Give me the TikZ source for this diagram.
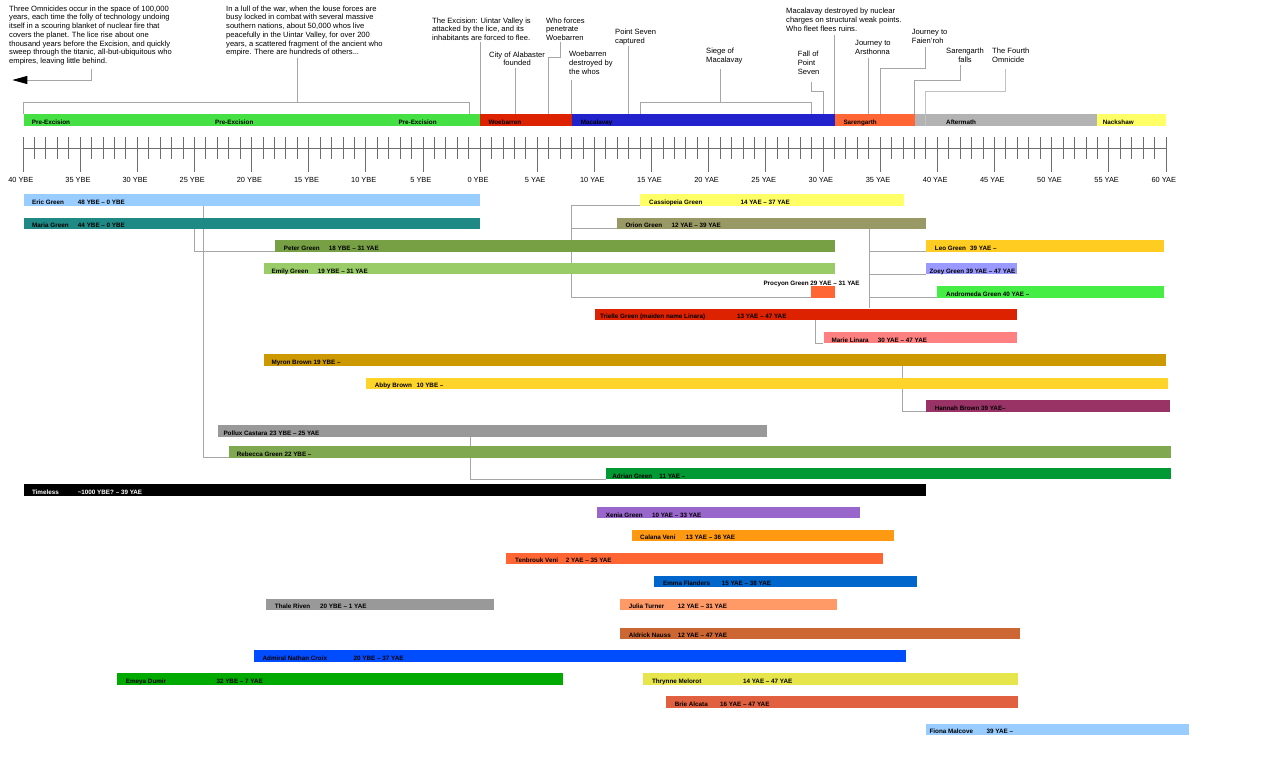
\documentclass[tikz,border=0pt]{standalone}
\usepackage{fontspec}
\setmainfont{Liberation Sans}
\usepackage{tikz}
\usetikzlibrary{calc}
\usetikzlibrary{arrows.meta}
\usetikzlibrary{positioning}

% era colours
\definecolor{cPre}{HTML}{44E044}
\definecolor{cWoe}{HTML}{DD2200}
\definecolor{cMac}{HTML}{2222CC}
\definecolor{cSar}{HTML}{FF6633}
\definecolor{cAft}{HTML}{B3B3B3}
\definecolor{cNack}{HTML}{FFFF66}
% people
\definecolor{cEric}{HTML}{99CCFF}
\definecolor{cMaria}{HTML}{1F8A85}
\definecolor{cPeter}{HTML}{77A044}
\definecolor{cEmily}{HTML}{99CC66}
\definecolor{cCass}{HTML}{FFFF66}
\definecolor{cOrion}{HTML}{999966}
\definecolor{cLeo}{HTML}{FFCC22}
\definecolor{cZoey}{HTML}{9999FF}
\definecolor{cProc}{HTML}{FF6633}
\definecolor{cAndro}{HTML}{44EE44}
\definecolor{cTri}{HTML}{DD2200}
\definecolor{cMarie}{HTML}{FF8080}
\definecolor{cMyron}{HTML}{CC9900}
\definecolor{cAbby}{HTML}{FFD42A}
\definecolor{cHannah}{HTML}{993366}
\definecolor{cPollux}{HTML}{999999}
\definecolor{cReb}{HTML}{80A850}
\definecolor{cAdrian}{HTML}{009933}
\definecolor{cXenia}{HTML}{9966CC}
\definecolor{cCalana}{HTML}{FF9911}
\definecolor{cTen}{HTML}{FF6633}
\definecolor{cEmma}{HTML}{0066CC}
\definecolor{cThale}{HTML}{999999}
\definecolor{cJulia}{HTML}{FF9966}
\definecolor{cAld}{HTML}{CC6633}
\definecolor{cAdm}{HTML}{004CFF}
\definecolor{cEmeya}{HTML}{00AA00}
\definecolor{cThry}{HTML}{E6E64C}
\definecolor{cBrie}{HTML}{E06040}
\definecolor{cFiona}{HTML}{99CCFF}
% lines
\definecolor{cLink}{HTML}{A6A6A6}
\definecolor{cTick}{HTML}{6E6E6E}

\newcommand{\barbox}[2]{\makebox[#1pt][l]{#2}}
\newcommand{\tabname}[3]{\hspace*{#1pt}\makebox[#2pt][l]{#3}}

\tikzset{
  bar/.style={anchor=north west, inner sep=0pt, minimum height=11.5pt,
              text height=9.3pt, text depth=0pt,
              font=\fontsize{6.3}{7}\selectfont\bfseries},
  note/.style={anchor=north west, inner sep=0pt, align=left,
               font=\fontsize{7.6}{8.7}\selectfont},
  link/.style={draw=cLink, line width=0.9pt},
  tick/.style={draw=cTick, line width=0.6pt},
  yearlabel/.style={inner sep=0pt, font=\fontsize{7.4}{8}\selectfont}
}

\begin{document}
\begin{tikzpicture}[x=1pt, y=-1pt]
    \fill[white] (0,0) rectangle (1280,777);
    \useasboundingbox (0,0) rectangle (1280,777);

    % Notes above the eras
    \node[note] (omninote)     at (9,5.5)      {Three Omnicides occur in the space of 100,000\\years, each time the folly of technology undoing\\itself in a scouring blanket of nuclear fire that\\covers the planet. The lice rise about one\\thousand years before the Excision, and quickly\\sweep through the titanic, all-but-ubiquitous who\\empires, leaving little behind.};
    \node[note] (lullnote)     at (226,5.5)    {In a lull of the war, when the louse forces are\\busy locked in combat with several massive\\southern nations, about 50,000 whos live\\peacefully in the Uintar Valley, for over 200\\years, a scattered fragment of the ancient who\\empire. There are hundreds of others...};
    \node[note] (excisionnote) at (432,17.5)   {The Excision: Uintar Valley is\\attacked by the lice, and its\\inhabitants are forced to flee.};
    \node[note, anchor=north, align=center] (alabnote) at (517,51.5) {City of Alabaster\\founded};
    \node[note] (whonote)      at (546,17.5)   {Who forces\\penetrate\\Woebarren};
    \node[note] (woenote)      at (569,51.2)   {Woebarren\\destroyed by\\the whos};
    \node[note] (psnote)       at (615,29.2)   {Point Seven\\captured};
    \node[note] (siegenote)    at (706,48.2)   {Siege of\\Macalavay};
    \node[note] (fallnote)     at (797.7,51.2) {Fall of\\Point\\Seven};
    \node[note] (nukenote)     at (786,7.9)    {Macalavay destroyed by nuclear\\charges on structural weak points.\\Who fleet flees ruins.};
    \node[note] (arsnote)      at (855,40.5)   {Journey to\\Arsthonna};
    \node[note] (fainote)      at (911.7,29.2) {Journey to\\Faien'roh};
    \node[note, anchor=north, align=center] (sfnote) at (965,48.2) {Sarengarth\\falls};
    \node[note] (fourthnote)   at (992,48.2)   {The Fourth\\Omnicide};

    % Feet of the note lines and their hits on the era bar
    \coordinate (omnifoot)    at (91.3,69);
    \coordinate (omnitip)     at (12.3,80);
    \coordinate (lullfoot)    at (297,58);
    \coordinate (lullend)     at (469,114);
    \coordinate (excfoot)     at (480,42);
    \coordinate (alabfoot)    at (515,68);
    \coordinate (whofoot)     at (560,41.7);
    \coordinate (whohit)      at (548.3,114);
    \coordinate (woefoot)     at (571.4,80);
    \coordinate (psfoot)      at (628.7,46);
    \coordinate (siegestart)  at (640,114);
    \coordinate (siegeend)    at (811.7,114);
    \coordinate (siegefoot)   at (720.7,69);
    \coordinate (fallfoot)    at (811.7,81.7);
    \coordinate (fallhit)     at (823.3,114);
    \coordinate (nukefoot)    at (834.3,35);
    \coordinate (arsfoot)     at (868.3,58);
    \coordinate (faifoot)     at (925.7,47);
    \coordinate (faihit)      at (880,114);
    \coordinate (sffoot)      at (960.3,65);
    \coordinate (sfhit)       at (914.3,114);
    \coordinate (fourthfoot)  at (1005.7,69);
    \coordinate (fourthhit)   at (925.7,114);

    \draw[link, -{Triangle[length=15pt,width=8pt,black]}] (omnifoot) |- (omnitip);
    \draw[link] (lullfoot) -- ++(0,44.7);
    \draw[link] (23.3,114) -- ++(0,-11.3) -| (lullend);
    \draw[link] (excfoot) -- (excfoot |- lullend);
    \draw[link] (alabfoot) -- (alabfoot |- lullend);
    \draw[link] (whofoot) -- ++(0,15.6) -| (whohit);
    \draw[link] (woefoot) -- (woefoot |- lullend);
    \draw[link] (psfoot) -- (psfoot |- lullend);
    \draw[link] (siegefoot) -- ++(0,33.7);
    \draw[link] (siegestart) -- ++(0,-11.3) -| (siegeend);
    \draw[link] (fallfoot) -- ++(0,10) -| (fallhit);
    \draw[link] (nukefoot) -- (nukefoot |- lullend);
    \draw[link] (arsfoot) -- (arsfoot |- lullend);
    \draw[link] (faifoot) -- ++(0,21.3) -| (faihit);
    \draw[link] (sffoot) -- ++(0,15) -| (sfhit);

    % Eras
    \node[bar, fill=cPre]  (pre)        at (23.3,114)  {\barbox{456.7}{\hspace*{8.4pt}\makebox[183.3pt][l]{Pre-Excision}\makebox[183.3pt][l]{Pre-Excision}Pre-Excision}};
    \node[bar, fill=cWoe]  (woebarren)  at (480,114)   {\barbox{91.4}{\hspace*{8.3pt}Woebarren}};
    \node[bar, fill=cMac]  (macalavay)  at (571.4,114) {\barbox{262.9}{\hspace*{9.3pt}Macalavay}};
    \node[bar, fill=cSar]  (sarengarth) at (834.3,114) {\barbox{80}{\hspace*{9pt}Sarengarth}};
    \node[bar, fill=cAft]  (aftermath)  at (914.3,114) {\barbox{182.7}{\hspace*{31.7pt}Aftermath}};
    \node[bar, fill=cNack] (nackshaw)   at (1097,114)  {\barbox{69}{\hspace*{5.7pt}Nackshaw}};
    \draw[link, draw=cLink!70] (fourthfoot) -- ++(0,22) -| (fourthhit) -- (fourthhit |- aftermath.south);

    % Year axis
    \draw[tick] (23.3,148.3) -- (1165.8,148.3);
    \foreach \i in {-40,...,60}
        \draw[tick] ({480+11.43*\i},137.3) -- ++(0,22);
    \foreach \i in {-40,-35,...,60}
        \draw[tick] ({480+11.43*\i},137.3) -- ++(0,34.4);
    \foreach \i in {40,35,...,0}
        \node[yearlabel] (ybe\i) at ({478-11.43*\i},180) {\i\ YBE};
    \foreach \i in {5,10,...,60}
        \node[yearlabel] (yae\i) at ({478+11.43*\i},180) {\i\ YAE};

    % Family lines (behind the bars)
    \coordinate (pekids) at (571.4,297.3);
    \coordinate (otline) at (869,228.7);
    \draw[link] (23.3,205.7) ++(180,0) |- (228.6,457.3);
    \draw[link] (23.3,228.7) ++(171,0) |- (275,251.5);
    \draw[link] (640,205.7) -| (pekids) -- (811,297.3);
    \draw[link] (617.1,228.7) -- (617.1,228.7 -| pekids);
    \draw[link] (otline) -- (otline |- 0,308.3);
    \draw[link] (otline |- 0,251.5) -- (926,251.5);
    \draw[link] (otline |- 0,274.2) -- (926,274.2);
    \draw[link] (otline |- 0,297.5) -- (937.1,297.5);
    \draw[link] (594.7,319.8) ++(220.4,0) |- (823.3,343.2);
    \draw[link] (263.3,365.5) ++(639.6,0) |- (926,411.5);
    \draw[link] (217.6,436.5) ++(253,0) |- (606.1,479.2);

    % Lifelines
    \node[bar, fill=cEric]    (eric)       at (23.3,194)    {\barbox{456.7}{\tabname{8.7}{45.8}{Eric Green}48 YBE -- 0 YBE}};
    \node[bar, fill=cMaria]   (maria)      at (23.3,217.3)  {\barbox{456.7}{\tabname{8.7}{45.8}{Maria Green}44 YBE -- 0 YBE}};
    \node[bar, fill=cPeter]   (peter)      at (275,240)     {\barbox{559.3}{\tabname{8.7}{45}{Peter Green}18 YBE -- 31 YAE}};
    \node[bar, fill=cEmily]   (emily)      at (263.3,262.7) {\barbox{571}{\tabname{8.1}{46.3}{Emily Green}19 YBE -- 31 YAE}};
    \node[bar, fill=cCass]    (cassiopeia) at (640,194)     {\barbox{264}{\tabname{9}{91.4}{Cassiopeia Green}14 YAE -- 37 YAE}};
    \node[bar, fill=cOrion]   (orion)      at (617.1,217.3) {\barbox{308.9}{\tabname{8.2}{46.1}{Orion Green}12 YAE -- 39 YAE}};
    \node[bar, fill=cLeo]     (leo)        at (926,240)     {\barbox{237.7}{\tabname{8.7}{35.3}{Leo Green}39 YAE --}};
    \node[bar, fill=cZoey]    (zoey)       at (926,262.7)   {\barbox{91}{\hspace*{3.4pt}Zoey Green 39 YAE -- 47 YAE}};
    \node[bar, fill=cProc]    (procyon)    at (811,286)     {\barbox{23.3}{}};
    \node[bar, fill=cAndro]   (andromeda)  at (937.1,286)   {\barbox{226.2}{\hspace*{8.9pt}Andromeda Green 40 YAE --}};
    \node[bar, fill=cTri]     (trielle)    at (594.7,308.3) {\barbox{422.3}{\tabname{5.3}{137}{Trielle Green (maiden name Linara)}13 YAE -- 47 YAE}};
    \node[bar, fill=cMarie]   (marie)      at (823.3,331.7) {\barbox{193.7}{\tabname{8.1}{46.2}{Marie Linara}30 YAE -- 47 YAE}};
    \node[bar, fill=cMyron]   (myron)      at (263.3,354)   {\barbox{902}{\tabname{8.1}{42.1}{Myron Brown}19 YBE --}};
    \node[bar, fill=cAbby]    (abby)       at (366,377.3)   {\barbox{802.2}{\tabname{8.7}{41.6}{Abby Brown}10 YBE --}};
    \node[bar, fill=cHannah]  (hannah)     at (926,400)     {\barbox{243.8}{\hspace*{8.7pt}Hannah Brown 39 YAE--}};
    \node[bar, fill=cPollux]  (pollux)     at (217.6,425)   {\barbox{549.4}{\tabname{5.7}{46.1}{Pollux Castara}23 YBE -- 25 YAE}};
    \node[bar, fill=cReb]     (rebecca)    at (228.6,446)   {\barbox{942.4}{\hspace*{8.1pt}Rebecca Green 22 YBE --}};
    \node[bar, fill=cAdrian]  (adrian)     at (606.1,467.7) {\barbox{564.9}{\tabname{6.1}{47}{Adrian Green}11 YAE --}};
    \node[bar, fill=black, text=white] (timeless) at (23.3,484) {\barbox{902.7}{\tabname{8.5}{45.8}{Timeless}\textasciitilde1000 YBE? -- 39 YAE}};
    \node[bar, fill=cXenia]   (xenia)      at (596.7,506.7) {\barbox{263.3}{\tabname{9}{46.1}{Xenia Green}10 YAE -- 33 YAE}};
    \node[bar, fill=cCalana]  (calana)     at (631.4,529.3) {\barbox{262.5}{\tabname{8.6}{45.7}{Calana Veni}13 YAE -- 36 YAE}};
    \node[bar, fill=cTen]     (tenbrouk)   at (505.3,552.3) {\barbox{377.1}{\tabname{9.7}{50.7}{Tenbrouk Veni}2 YAE -- 35 YAE}};
    \node[bar, fill=cEmma]    (emma)       at (653.9,575.3) {\barbox{263.2}{\tabname{9}{58.7}{Emma Flanders}15 YAE -- 38 YAE}};
    \node[bar, fill=cThale]   (thale)      at (265.3,598.3) {\barbox{228.6}{\tabname{9.4}{45.3}{Thale Riven}20 YBE -- 1 YAE}};
    \node[bar, fill=cJulia]   (julia)      at (620,598.3)   {\barbox{216.7}{\tabname{8.6}{49}{Julia Turner}12 YAE -- 31 YAE}};
    \node[bar, fill=cAld]     (aldrick)    at (620,627.3)   {\barbox{400}{\tabname{8.6}{49}{Aldrick Nauss}12 YAE -- 47 YAE}};
    \node[bar, fill=cAdm]     (admiral)    at (253.9,650)   {\barbox{651.4}{\tabname{8.5}{91.1}{Admiral Nathan Croix}20 YBE -- 37 YAE}};
    \node[bar, fill=cEmeya]   (emeya)      at (117.1,673)   {\barbox{445.3}{\tabname{8.6}{90.6}{Emeya Dumir}32 YBE -- 7 YAE}};
    \node[bar, fill=cThry]    (thrynne)    at (642.9,673)   {\barbox{375.1}{\tabname{8.9}{91.1}{Thrynne Melorot}14 YAE -- 47 YAE}};
    \node[bar, fill=cBrie]    (brie)       at (665.3,696)   {\barbox{352.7}{\tabname{9.4}{45.3}{Brie Alcata}16 YAE -- 47 YAE}};
    \node[bar, fill=cFiona]   (fiona)      at (926,723.3)   {\barbox{262.6}{\tabname{3.4}{57.1}{Fiona Malcove}39 YAE --}};

    % Procyon's label sits outside its bar
    \node[anchor=base west, inner sep=0pt, font=\fontsize{6.3}{7}\selectfont\bfseries] (procyonlabel) at (763.3,285) {Procyon Green 29 YAE -- 31 YAE};
\end{tikzpicture}
\end{document}
